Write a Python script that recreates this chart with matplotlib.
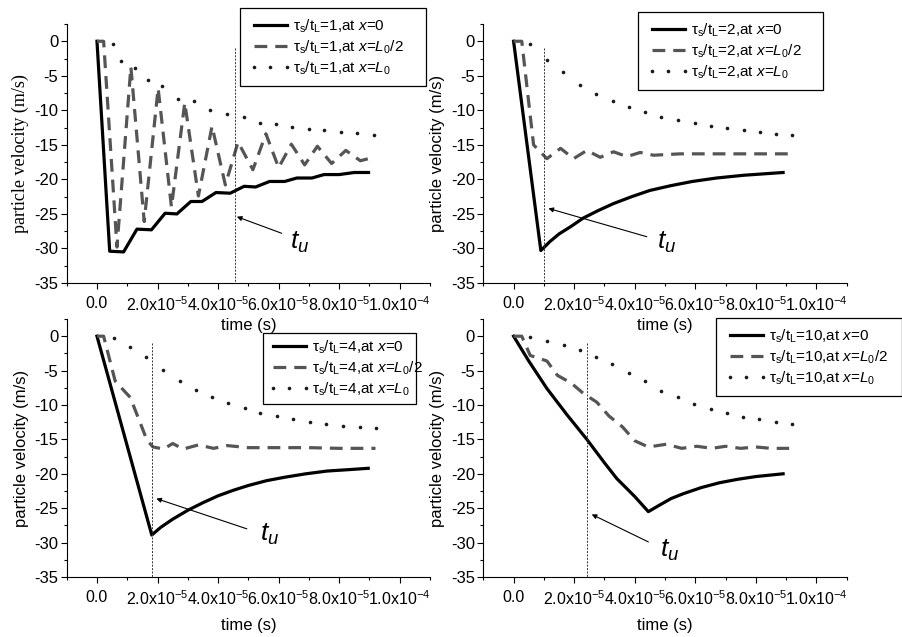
import numpy as np
import matplotlib
matplotlib.use('Agg')
import matplotlib.pyplot as plt
from matplotlib.ticker import MultipleLocator, FixedLocator, FixedFormatter

plt.rcParams['font.family'] = ['Liberation Sans', 'DejaVu Sans']
plt.rcParams['mathtext.fontset'] = 'custom'
plt.rcParams['mathtext.rm'] = 'Liberation Sans'
plt.rcParams['mathtext.it'] = 'Liberation Sans:italic'
plt.rcParams['mathtext.bf'] = 'Liberation Sans:bold'
plt.rcParams['axes.unicode_minus'] = False

# time values are in units of 1e-5 s, velocities in m/s
ratios = [1, 2, 4, 10]

# tau_s/t_L = 1
t_x0_1 = [0, 0.42, 0.88, 1.32, 1.80, 2.25, 2.64, 3.10, 3.47, 3.93, 4.40, 4.86, 5.24,
          5.70, 6.20, 6.60, 7.10, 7.50, 8.00, 8.50, 8.97]
v_x0_1 = [0, -30.4, -30.5, -27.2, -27.3, -24.9, -25.0, -23.2, -23.2, -21.9, -22.0, -21.0, -21.1,
          -20.3, -20.3, -19.8, -19.8, -19.3, -19.3, -19.0, -19.0]
t_half_1 = [0, 0.22, 0.66, 1.12, 1.56, 2.02, 2.46, 2.90, 3.35, 3.80, 4.24, 4.66, 5.15,
            5.58, 6.00, 6.42, 6.86, 7.28, 7.75, 8.22, 8.70, 9.05]
v_half_1 = [0, 0, -29.8, -3.7, -26.1, -6.8, -24.0, -8.9, -22.4, -12.3, -20.8, -14.6, -18.6,
            -13.4, -18.3, -14.9, -17.9, -15.2, -17.7, -15.8, -17.3, -16.9]
t_L_1 = [0.53, 0.80, 1.27, 1.67, 2.15, 2.66, 3.20, 3.74, 4.29, 4.84, 5.37, 5.90, 6.45,
         7.00, 7.50, 8.05, 8.60, 9.15]
v_L_1 = [-0.4, -2.8, -3.8, -5.6, -6.5, -8.4, -8.6, -9.9, -10.5, -11.0, -11.9, -12.0, -12.4,
         -12.7, -12.8, -13.2, -13.3, -13.5]

# tau_s/t_L = 2
t_x0_2 = [0, 0.90, 1.20, 1.50, 1.90, 2.30, 2.80, 3.30, 3.90, 4.50, 5.20, 5.90, 6.70, 7.60, 8.90]
v_x0_2 = [0, -30.3, -29.0, -27.9, -26.8, -25.6, -24.5, -23.5, -22.5, -21.6, -20.9, -20.3,
          -19.8, -19.4, -19.0]
t_half_2 = [0, 0.27, 0.66, 1.10, 1.55, 1.98, 2.42, 2.86, 3.30, 3.74, 4.18, 4.62, 5.50, 9.20]
v_half_2 = [0, 0, -15.0, -17.0, -15.5, -17.0, -15.8, -16.8, -16.0, -16.7, -16.1, -16.5, -16.3, -16.3]
t_L_2 = [0.55, 1.10, 1.63, 2.18, 2.72, 3.27, 3.82, 4.35, 4.88, 5.43, 5.98, 6.52, 7.05,
         7.60, 8.13, 8.67, 9.20]
v_L_2 = [-0.4, -2.7, -4.5, -6.3, -7.6, -8.6, -9.5, -10.3, -11.0, -11.4, -11.9, -12.3, -12.6,
         -12.8, -13.1, -13.4, -13.5]

# tau_s/t_L = 4
t_x0_4 = [0, 1.81, 2.10, 2.50, 3.00, 3.50, 4.00, 4.50, 5.00, 5.60, 6.20, 6.90, 7.60, 8.30, 8.96]
v_x0_4 = [0, -28.9, -27.8, -26.6, -25.3, -24.2, -23.2, -22.4, -21.7, -21.0, -20.5, -20.0,
          -19.6, -19.4, -19.2]
t_half_4 = [0, 0.22, 0.60, 0.95, 1.10, 1.65, 1.85, 2.20, 2.50, 2.85, 3.35, 3.85, 4.30,
            5.00, 6.00, 7.00, 8.00, 9.20]
v_half_4 = [0, 0, -6.5, -8.2, -8.9, -15.1, -16.1, -16.4, -15.6, -16.4, -15.8, -16.3, -15.9,
            -16.2, -16.2, -16.2, -16.3, -16.3]
t_L_4 = [0.55, 1.10, 1.63, 2.18, 2.73, 3.27, 3.79, 4.34, 4.89, 5.40, 5.96, 6.48, 7.03,
         7.58, 8.13, 8.68, 9.20]
v_L_4 = [-0.3, -1.5, -3.0, -4.9, -6.5, -7.8, -8.8, -9.7, -10.5, -11.1, -11.6, -12.1, -12.5,
         -12.8, -13.0, -13.2, -13.3]

# tau_s/t_L = 10
t_x0_10 = [0, 0.50, 1.10, 1.76, 2.42, 3.00, 3.41, 4.00, 4.45, 4.80, 5.20, 5.60, 6.20,
           6.80, 7.40, 8.00, 8.90]
v_x0_10 = [0, -3.6, -7.6, -11.4, -15.0, -18.4, -20.7, -23.3, -25.5, -24.6, -23.6, -22.9,
           -22.0, -21.3, -20.8, -20.4, -20.0]
t_half_10 = [0, 0.27, 0.55, 1.10, 1.45, 1.90, 2.30, 2.75, 3.15, 3.60, 4.00, 4.45, 5.05,
             5.55, 6.05, 6.55, 7.00, 7.50, 8.00, 8.50, 9.10]
v_half_10 = [0, 0, -2.8, -3.6, -5.7, -6.8, -8.3, -9.6, -11.6, -13.2, -15.2, -16.1, -15.7,
             -16.3, -16.0, -16.3, -16.0, -16.3, -16.1, -16.3, -16.3]
t_L_10 = [0.55, 1.10, 1.65, 2.18, 2.72, 3.26, 3.81, 4.34, 4.87, 5.42, 5.97, 6.52, 7.04,
          7.58, 8.10, 8.66, 9.20]
v_L_10 = [-0.1, -0.7, -1.3, -2.0, -3.0, -4.1, -5.3, -6.5, -7.9, -8.9, -9.9, -10.6, -11.1,
          -11.7, -12.1, -12.4, -12.8]

# t_u marker line, arrow tail, arrow head, label position (1e-5 s, m/s)
t_u = [4.57, 0.99, 1.81, 2.42]
arrow_from = [(6.10, -27.8), (4.40, -28.3), (4.95, -28.0), (4.45, -29.9)]
arrow_to = [(4.62, -25.4), (1.15, -24.2), (1.96, -23.6), (2.58, -25.9)]
tu_text = [(6.38, -30.0), (4.73, -30.0), (5.38, -29.7), (4.84, -32.1)]

xticks = [0, 2e-5, 4e-5, 6e-5, 8e-5, 1e-4]
xticklabels = ['0.0', '2.0x10$^{-5}$', '4.0x10$^{-5}$', '6.0x10$^{-5}$',
               '8.0x10$^{-5}$', '1.0x10$^{-4}$']
yticks = [0, -5, -10, -15, -20, -25, -30, -35]

series = [
    (t_x0_1, v_x0_1, t_half_1, v_half_1, t_L_1, v_L_1),
    (t_x0_2, v_x0_2, t_half_2, v_half_2, t_L_2, v_L_2),
    (t_x0_4, v_x0_4, t_half_4, v_half_4, t_L_4, v_L_4),
    (t_x0_10, v_x0_10, t_half_10, v_half_10, t_L_10, v_L_10),
]

W, H = 903, 637
fig = plt.figure(figsize=(W / 100, H / 100), dpi=100)

# axes boxes in pixels: left, top, right, bottom
boxes = [(66.7, 24, 430, 283), (483.3, 24, 846.7, 283),
         (66.7, 319, 430, 577), (483.3, 319, 846.7, 577)]
# legend boxes in pixels: left, top, width
leg_boxes = [(240, 8, 186), (638, 12, 185), (263, 333, 153), (716, 318, 186)]
xlabel_y = [-0.135, -0.135, -0.157, -0.157]

sc = 1e-5
for i, (r, data) in enumerate(zip(ratios, series)):
    l, t, rr, b = boxes[i]
    ax = fig.add_axes([l / W, 1 - b / H, (rr - l) / W, (b - t) / H])
    ax.patch.set_visible(False)
    tx0, vx0, th, vh, tl, vl = data

    lab = 'τ$_{\\rm s}$/t$_{\\rm L}$=%d,at ' % r
    ax.plot(np.array(tx0) * sc, vx0, color='black', lw=2.3,
            label=lab + '$\\mathit{x}$=0')
    ax.plot(np.array(th) * sc, vh, color='#555555', lw=2.3, dashes=(4, 2.5),
            label=lab + '$\\mathit{x}$=$\\mathit{L}_{\\mathit{0}}$/2')
    ax.plot(np.array(tl) * sc, vl, ls='none', marker='o', ms=2.6, mew=0,
            color='#1a1a1a', label=lab + '$\\mathit{x}$=$\\mathit{L}_{\\mathit{0}}$')

    ax.plot([t_u[i] * sc, t_u[i] * sc], [-1.0, -35], color='#333333', lw=0.7,
            dashes=(2, 1.5))
    ax.annotate('', xy=(arrow_to[i][0] * sc, arrow_to[i][1]),
                xytext=(arrow_from[i][0] * sc, arrow_from[i][1]),
                arrowprops=dict(arrowstyle='-|>', lw=0.8, color='black',
                                mutation_scale=7, shrinkA=0, shrinkB=0))
    ax.text(tu_text[i][0] * sc, tu_text[i][1], '$t_u$', fontsize=19,
            ha='left', va='baseline')

    ax.set_xlim(-1e-5, 1.1e-4)
    ax.set_ylim(-35, 2.5)
    ax.xaxis.set_major_locator(FixedLocator(xticks))
    ax.xaxis.set_major_formatter(FixedFormatter(xticklabels))
    ax.xaxis.set_minor_locator(MultipleLocator(1e-5))
    ax.yaxis.set_major_locator(FixedLocator(yticks))
    ax.yaxis.set_minor_locator(MultipleLocator(2.5))
    ax.tick_params(which='major', direction='out', length=4, width=0.8, labelsize=12)
    ax.tick_params(axis='x', which='major', labelsize=11.5, pad=5)
    ax.tick_params(axis='y', which='major', pad=2)
    ax.tick_params(which='minor', direction='out', length=2.5, width=0.8)
    for s in ['top', 'right']:
        ax.spines[s].set_visible(False)
    for s in ['left', 'bottom']:
        ax.spines[s].set_linewidth(0.8)

    ax.set_xlabel('time (s)', fontsize=12)
    ax.xaxis.set_label_coords(0.5, xlabel_y[i])
    if i == 0:
        ax.set_ylabel('particle velocity (m/s)', fontsize=13,
                      family=['Liberation Serif', 'DejaVu Serif'])
    else:
        ax.set_ylabel('particle velocity (m/s)', fontsize=12)
    ax.yaxis.set_label_coords(-0.105, 0.5)

    lx, ly, lw_ = leg_boxes[i]
    leg = ax.legend(loc='upper left', mode='expand',
                    bbox_to_anchor=(lx / W, 1 - (ly + 80) / H, lw_ / W, 80 / H),
                    bbox_transform=fig.transFigure, borderaxespad=0,
                    fontsize=11, handlelength=2.75, handletextpad=0.1,
                    labelspacing=0.25, borderpad=0.6 if i != 2 else 0.35,
                    numpoints=3, fancybox=False, framealpha=1)
    leg.get_frame().set_edgecolor('black')
    leg.get_frame().set_linewidth(0.9)

fig.savefig('out.png', dpi=100)
